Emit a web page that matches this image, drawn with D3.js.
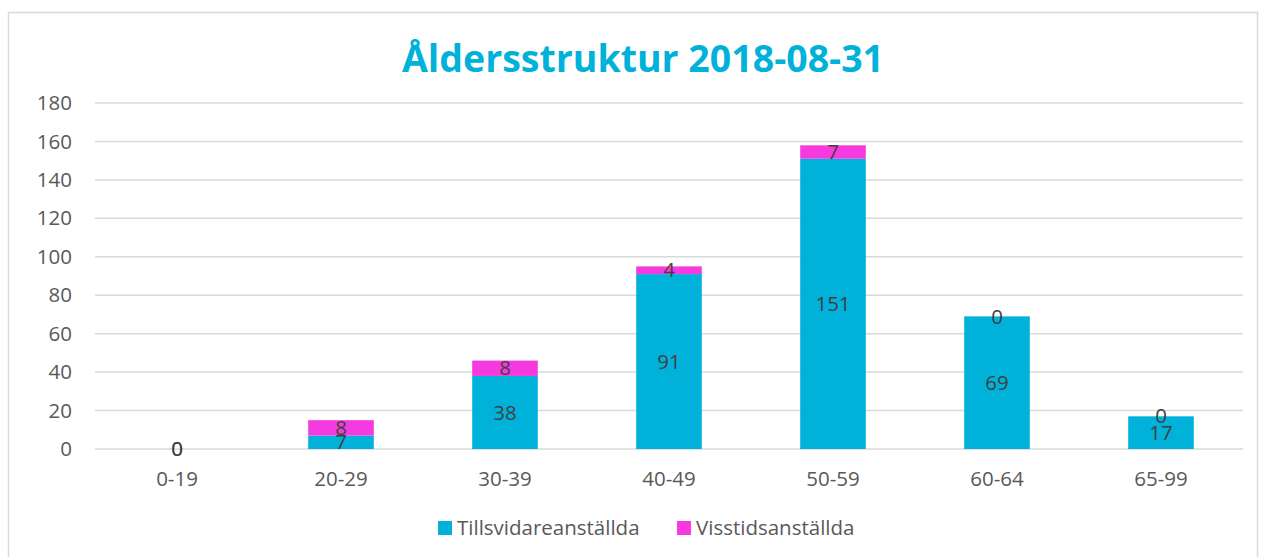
<!DOCTYPE html>
<html>
<head>
<meta charset="utf-8">
<script src="https://cdn.jsdelivr.net/npm/d3@7"></script>
<style>
  body { margin: 0; background: #fff; }
  svg { font-family: "Open Sans", "Noto Sans", sans-serif; }
</style>
</head>
<body>
<div id="chart"></div>
<script>
// data
const categories = ["0-19", "20-29", "30-39", "40-49", "50-59", "60-64", "65-99"];
const tillsvidare = [0, 7, 38, 91, 151, 69, 17];
const visstids = [0, 8, 8, 4, 7, 0, 0];
const seriesNames = ["Tillsvidareanställda", "Visstidsanställda"];
const seriesColors = ["#00B2DA", "#F53BDF"];
const yTicks = [0, 20, 40, 60, 80, 100, 120, 140, 160, 180];
const title = "Åldersstruktur 2018-08-31";

const W = 1266, H = 557;
const margin = { top: 103, right: 23, bottom: 108, left: 95 };
const width = W - margin.left - margin.right;
const height = H - margin.top - margin.bottom;
const fontSize = "20.5px";

const svg = d3.select("#chart").append("svg")
    .attr("width", W)
    .attr("height", H);

// outer chart border
svg.append("rect")
    .attr("x", 8.5).attr("y", 12.5)
    .attr("width", 1249).attr("height", 560)
    .attr("fill", "none")
    .attr("stroke", "#D9D9D9")
    .attr("stroke-width", 1.5);

svg.append("text")
    .attr("x", 643).attr("y", 72)
    .attr("text-anchor", "middle")
    .attr("fill", "#00B2DA")
    .style("font-size", "37.5px")
    .style("font-weight", "bold")
    .text(title);

const g = svg.append("g")
    .attr("transform", `translate(${margin.left},${margin.top})`);

const rows = categories.map((c, i) => ({ cat: c, s0: tillsvidare[i], s1: visstids[i] }));
const stacked = d3.stack().keys(["s0", "s1"])(rows);

const x = d3.scaleBand()
    .domain(categories)
    .range([0, width])
    .paddingInner(0.6)
    .paddingOuter(0.3);

const y = d3.scaleLinear()
    .domain([0, 180])
    .range([height, 0]);

// gridlines
g.append("g")
    .selectAll("line")
    .data(yTicks)
    .enter()
    .append("line")
    .attr("x1", 0).attr("x2", width)
    .attr("y1", d => y(d)).attr("y2", d => y(d))
    .attr("stroke", "#D9D9D9")
    .attr("stroke-width", 1.5);

// y axis labels
const yAxis = g.append("g")
    .call(d3.axisLeft(y).tickValues(yTicks).tickSize(0).tickPadding(23));
yAxis.select(".domain").remove();
yAxis.selectAll("text")
    .attr("fill", "#595959")
    .style("font-size", fontSize)
    .style("font-family", "'Open Sans', sans-serif");

// x axis labels
const xAxis = g.append("g")
    .attr("transform", `translate(0,${height})`)
    .call(d3.axisBottom(x).tickSize(0).tickPadding(22));
xAxis.select(".domain").remove();
xAxis.selectAll("text")
    .attr("fill", "#595959")
    .style("font-size", fontSize)
    .style("font-family", "'Open Sans', sans-serif");

// bars
const layers = g.selectAll(".layer")
    .data(stacked)
    .enter()
    .append("g")
    .attr("class", "layer")
    .attr("fill", (d, i) => seriesColors[i]);

layers.selectAll("rect")
    .data(d => d)
    .enter()
    .append("rect")
    .attr("x", d => x(d.data.cat))
    .attr("y", d => y(d[1]))
    .attr("width", x.bandwidth())
    .attr("height", d => y(d[0]) - y(d[1]));

// value labels in the middle of each segment
stacked.forEach(layer => {
    g.append("g").selectAll("text")
        .data(layer)
        .enter()
        .append("text")
        .attr("x", d => x(d.data.cat) + x.bandwidth() / 2)
        .attr("y", d => y((d[0] + d[1]) / 2))
        .attr("dy", "0.35em")
        .attr("text-anchor", "middle")
        .attr("fill", "#404040")
        .style("font-size", fontSize)
        .text(d => d[1] - d[0]);
});

// legend
const legendItems = [
    { name: seriesNames[0], color: seriesColors[0], x: 438 },
    { name: seriesNames[1], color: seriesColors[1], x: 677 }
];
const legend = svg.append("g").attr("transform", "translate(0,520)");
legendItems.forEach(item => {
    legend.append("rect")
        .attr("x", item.x).attr("y", 1)
        .attr("width", 14).attr("height", 14)
        .attr("fill", item.color);
    legend.append("text")
        .attr("x", item.x + 19).attr("y", 8)
        .attr("dy", "0.35em")
        .attr("fill", "#595959")
        .style("font-size", fontSize)
        .text(item.name);
});
</script>
</body>
</html>
